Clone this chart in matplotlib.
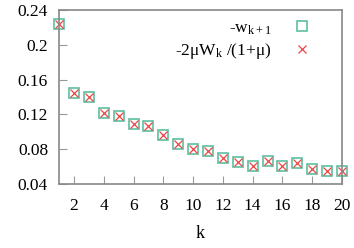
import numpy as np
import matplotlib
matplotlib.use("Agg")
import matplotlib.pyplot as plt

plt.rcParams['font.family'] = ['Liberation Serif', 'DejaVu Serif']
plt.rcParams['mathtext.fontset'] = 'custom'
plt.rcParams['mathtext.rm'] = 'Liberation Serif'
plt.rcParams['mathtext.it'] = 'Liberation Serif'

k = np.arange(1, 21)
w_next = [0.224, 0.144, 0.1395, 0.1216, 0.1185, 0.109, 0.1064, 0.0962, 0.0857, 0.080,
          0.0774, 0.0695, 0.0657, 0.0612, 0.0668, 0.0612, 0.0642, 0.0574, 0.0544, 0.0544]
w_ratio = w_next  # the two series coincide within the marker size

x_ticks = list(range(2, 21, 2))
y_ticks = [0.04, 0.08, 0.12, 0.16, 0.2, 0.24]
y_labels = ['0.04', '0.08', '0.12', '0.16', '0.2', '0.24']

fig = plt.figure(figsize=(3.54, 2.48), dpi=100)
ax = fig.add_axes([0.167, 0.258, 0.799, 0.702])

ax.plot(k, w_next, linestyle='none', marker='s', markersize=6.5, markerfacecolor='none',
        markeredgecolor='#5cc0a0', markeredgewidth=1.2, clip_on=False,
        label=r'-w$_{\mathrm{k+1}}$')
ax.plot(k, w_ratio, linestyle='none', marker='x', markersize=5.5, color='#ee4444',
        markeredgewidth=0.9, clip_on=False,
        label=r'-2$\mu$W$_{\mathrm{k}}$ /(1+$\mu$)')

ax.set_xlim(1, 20)
ax.set_ylim(0.04, 0.24)
ax.set_xticks(x_ticks)
ax.set_yticks(y_ticks)
ax.set_yticklabels(y_labels)
ax.tick_params(direction='in', length=6, color='#999999', labelsize=12.5)
ax.tick_params(axis='x', pad=10)
ax.tick_params(axis='y', pad=8)
ax.set_xlabel('k', fontsize=13, labelpad=8)
for s in ax.spines.values():
    s.set_color('#888888')
    s.set_linewidth(1.2)

ax.legend(loc='upper right', bbox_to_anchor=(0.94, 1.01), frameon=False, markerfirst=False,
          fontsize=12.5, handlelength=1.2, handletextpad=1.2, labelspacing=0.25, borderpad=0.2)

fig.savefig('out.png', dpi=100)
